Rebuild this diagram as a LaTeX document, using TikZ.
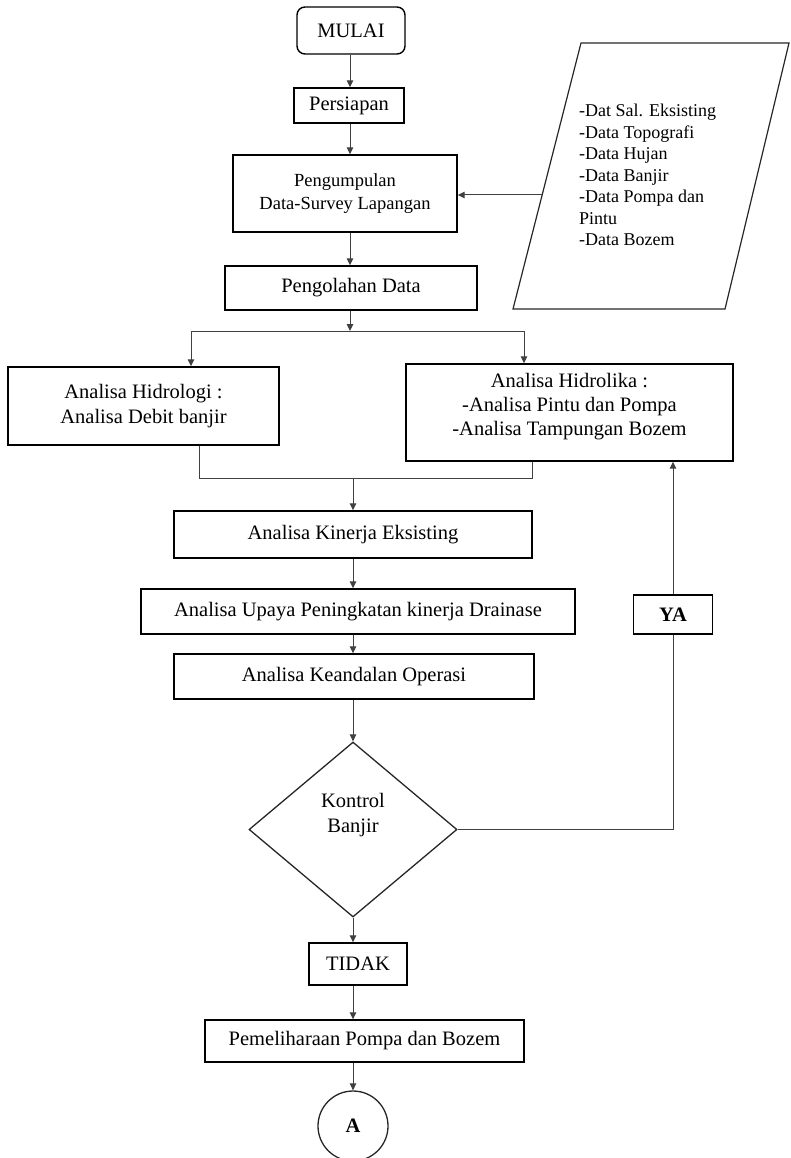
\documentclass[tikz,border=0pt]{standalone}
\usepackage{fontspec}
\setmainfont{Liberation Serif}
\usetikzlibrary{shapes.geometric,arrows.meta,calc}
\begin{document}
\begin{tikzpicture}[x=1pt,y=-1pt,
  box/.style={draw=black,line width=1.4pt,fill=white,inner sep=0pt,align=center,font=\fontsize{20.5}{25}\selectfont},
  conn/.style={draw=black!75,line width=1pt},
  arr/.style={conn,-{Triangle[width=6.5pt,length=7pt]}},
  txt/.style={inner sep=0pt,align=center,font=\fontsize{20.5}{25}\selectfont}]
\useasboundingbox (0,0) rectangle (790,1158);
% nodes
\node[box,rounded corners=8pt,minimum width=108pt,minimum height=47pt] (mulai) at (351,30.5) {MULAI};
\node[box,minimum width=110pt,minimum height=35pt] (prep) at (349,105.5) {Persiapan};
\node[box,minimum width=224pt,minimum height=77pt,font=\fontsize{18.5}{23}\selectfont] (kumpul) at (345,193.5) {Pengumpulan\\Data-Survey Lapangan};
\node[box,minimum width=252pt,minimum height=44pt] (olah) at (351,288) {Pengolahan Data};
% data parallelogram
\draw[line width=1.2pt,draw=black!85] (581,43) -- (789,43) -- (725,309) -- (513,309) -- cycle;
\coordinate (din) at (542,195);
\node[anchor=north west,inner sep=0pt,align=left,font=\fontsize{18}{21.5}\selectfont] (datalist) at (579,104) {-Dat Sal. Eksisting\\-Data Topografi\\-Data Hujan\\-Data Banjir\\-Data Pompa dan\\Pintu\\-Data Bozem};
\node[box,minimum width=271pt,minimum height=78pt] (hlogi) at (143.5,406) {Analisa Hidrologi :\\Analisa Debit banjir};
\node[box,minimum width=327pt,minimum height=97pt] (hlika) at (569.5,412.5) {};
\node[txt,font=\fontsize{20.5}{24}\selectfont] (hlikatext) at ([yshift=6pt]hlika.center) {Analisa Hidrolika :\\-Analisa Pintu dan Pompa\\-Analisa Tampungan Bozem};
\node[box,minimum width=358pt,minimum height=47pt] (kin) at (353,534.5) {Analisa Kinerja Eksisting};
\node[box,minimum width=434pt,minimum height=45pt] (upaya) at (358,611.5) {Analisa Upaya Peningkatan kinerja Drainase};
\node[box,minimum width=360pt,minimum height=45pt] (andal) at (354,676.5) {Analisa Keandalan Operasi};
\node[draw=black!85,diamond,line width=1.3pt,inner sep=0pt,minimum width=208pt,minimum height=175pt] (dia) at (353,829.5) {};
\node[txt] (diatext) at ([yshift=14pt]dia.center) {Kontrol\\Banjir};
\node[box,minimum width=79pt,minimum height=39pt,font=\bfseries\fontsize{20.5}{25}\selectfont] (ya) at (673,614.5) {YA};
\node[box,minimum width=98pt,minimum height=42pt] (tidak) at (358,964) {TIDAK};
\node[box,minimum width=319pt,minimum height=42pt] (pel) at (364.5,1041) {Pemeliharaan Pompa dan Bozem};
\node[draw=black!85,circle,line width=1.3pt,minimum size=70pt,inner sep=0pt,font=\bfseries\fontsize{20.5}{25}\selectfont] (A) at (353,1126) {A};
% connectors
\coordinate (colA) at (350,0);
\coordinate (colB) at (353,0);
\draw[arr] (colA |- mulai.south) -- (colA |- prep.north);
\draw[arr] (colA |- prep.south) -- (colA |- kumpul.north);
\draw[arr] (din) -- (din -| kumpul.east);
\draw[arr] (colA |- kumpul.south) -- (colA |- olah.north);
\coordinate (split) at (350,331);
\coordinate (sl) at (191,331);
\coordinate (sr) at (524,331);
\draw[arr] (colA |- olah.south) -- (split);
\draw[conn] (sl) -- (sr);
\draw[arr] (sl) -- (sl |- hlogi.north);
\draw[arr] (sr) -- (sr |- hlika.north);
\coordinate (ml) at (199,478);
\coordinate (mr) at (532,478);
\draw[conn] (ml |- hlogi.south) -- (ml) -- (mr) -- (mr |- hlika.south);
\draw[arr] (colB |- ml) -- (colB |- kin.north);
\draw[arr] (colB |- kin.south) -- (colB |- upaya.north);
\draw[arr] (colB |- upaya.south) -- (colB |- andal.north);
\draw[arr] (colB |- andal.south) -- (dia.north);
\draw[arr] (dia.south) -- (dia.south |- tidak.north);
\draw[arr] (colB |- tidak.south) -- (colB |- pel.north);
\draw[arr] (colB |- pel.south) -- (A.north);
\coordinate (yc) at (673,0);
\draw[conn] (dia.east) -- (yc |- dia.east) -- (yc |- ya.south);
\draw[arr] (yc |- ya.north) -- (yc |- hlika.south);
\end{tikzpicture}
\end{document}
